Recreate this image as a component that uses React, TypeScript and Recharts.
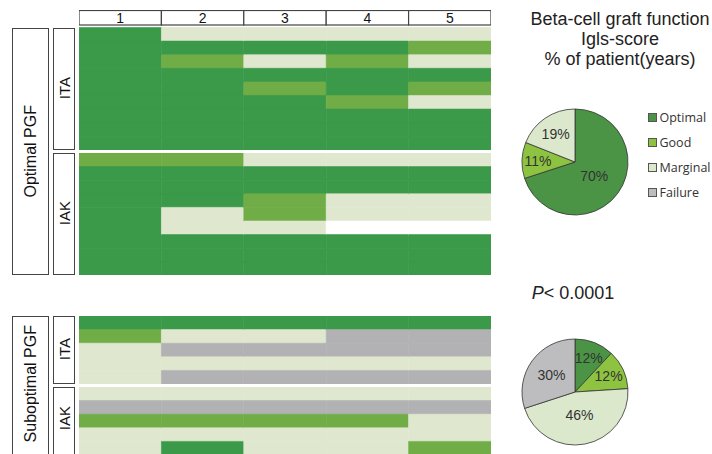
import React from 'react';
import { BarChart, Bar, Cell, XAxis, YAxis, PieChart, Pie, Legend } from 'recharts';

// years after transplantation (column headers)
const years = ['1', '2', '3', '4', '5'];

// one string per patient, one letter per year
// O = optimal, G = good, M = marginal, F = failure, N = no data
const optimalIta = ['OMMMM', 'OOOOG', 'OGMGM', 'OOOOO', 'OOGOG', 'OOOGM', 'OOOOO', 'OOOOO', 'OOOOO'];
const optimalIak = ['GGMMM', 'OOOOO', 'OOOOO', 'OOGMM', 'OMGMM', 'OMMNN', 'OOOOO', 'OOOOO', 'OOOOO'];
const suboptimalIta = ['OOOOO', 'GMMFF', 'MFFFF', 'MMMMM', 'MFFFF'];
const suboptimalIak = ['MMMMM', 'FFFFF', 'GGGGM', 'MMMMM', 'MOMMG'];

const grades = ['Optimal', 'Good', 'Marginal', 'Failure'];
const optimalPgfPct = [70, 11, 19];
const suboptimalPgfPct = [12, 12, 46, 30];

const cellColors: Record<string, string> = {
  O: '#3b9a4a',
  G: '#70ad47',
  M: '#dfe8cf',
  F: '#b2b1b4',
  N: '#ffffff',
};
const pieColors = ['#4b9446', '#8dc340', '#dbe8cc', '#bdbdbf'];

const ROW_H = 13.6;
const HEADER_H = 17.5;
const GRID_LEFT = 79;
const GRID_W = 412;
const FONT = '"Liberation Sans", Arial, sans-serif';

const YearTick = (props: any) => {
  const { x, index } = props;
  const w = GRID_W / years.length;
  return (
    <g>
      <rect x={x - w / 2} y={0.5} width={w} height={14.5} fill="#fff" stroke="#444" strokeWidth={1.2} />
      <text x={x} y={13} textAnchor="middle" fontSize={14} fill="#111" fontFamily={FONT}>
        {years[index]}
      </text>
    </g>
  );
};

function Grid({ rows, top, header }: { rows: string[]; top: number; header?: boolean }) {
  const data = rows.map((r, i) => {
    const d: any = { id: i };
    years.forEach((_, k) => (d['y' + k] = 1));
    return d;
  });
  const h = rows.length * ROW_H + (header ? HEADER_H : 0);
  return (
    <div style={{ position: 'absolute', left: GRID_LEFT, top }}>
      <BarChart
        width={GRID_W}
        height={h}
        data={data}
        layout="vertical"
        barCategoryGap={0}
        margin={{ top: 0, right: 0, bottom: 0, left: 0 }}
      >
        {header ? (
          <XAxis
            type="number"
            domain={[0, years.length]}
            orientation="top"
            height={HEADER_H}
            ticks={years.map((_, k) => k + 0.5)}
            interval={0}
            axisLine={false}
            tickLine={false}
            tick={<YearTick />}
          />
        ) : (
          <XAxis type="number" domain={[0, years.length]} hide />
        )}
        <YAxis type="category" dataKey="id" hide />
        {years.map((_, k) => (
          <Bar key={k} dataKey={'y' + k} stackId="s" isAnimationActive={false}>
            {rows.map((r, i) => (
              <Cell key={i} fill={cellColors[r[k]]} stroke={cellColors[r[k]]} strokeWidth={0.6} />
            ))}
          </Bar>
        ))}
      </BarChart>
    </div>
  );
}

function SideBox({ label, left, top, width, height, textH, fontSize }: any) {
  return (
    <div
      style={{
        position: 'absolute',
        left,
        top,
        width,
        height,
        border: '1.3px solid #444',
        boxSizing: 'border-box',
        background: '#fff',
      }}
    >
      <div
        style={{
          height: textH ?? height - 3,
          display: 'flex',
          alignItems: 'center',
          justifyContent: 'center',
        }}
      >
        <span
          style={{
            writingMode: 'vertical-rl',
            transform: 'rotate(180deg)',
            fontSize,
            color: '#111',
            whiteSpace: 'nowrap',
          }}
        >
          {label}
        </span>
      </div>
    </div>
  );
}

const RAD = Math.PI / 180;
const pctLabel = (props: any) => {
  const { cx, cy, midAngle, outerRadius, value } = props;
  const f = value >= 40 ? 0.45 : value >= 25 ? 0.55 : value >= 15 ? 0.65 : 0.7;
  const r = outerRadius * f;
  const x = cx + r * Math.cos(-midAngle * RAD);
  const y = cy + r * Math.sin(-midAngle * RAD);
  return (
    <text x={x} y={y} textAnchor="middle" dominantBaseline="central" fontSize={14} fill="#333" fontFamily={FONT}>
      {value}%
    </text>
  );
};

const GradeLegend = () => (
  <div style={{ fontFamily: '"Open Sans", sans-serif', fontSize: 12.5, color: '#333' }}>
    {grades.map((g, i) => (
      <div key={g} style={{ display: 'flex', alignItems: 'center', height: 25 }}>
        <span
          style={{
            width: 8.5,
            height: 8.5,
            background: pieColors[i],
            border: '1px solid #555',
            boxSizing: 'border-box',
            marginRight: 3,
          }}
        />
        {g}
      </div>
    ))}
  </div>
);

export default function App() {
  const topPie = optimalPgfPct.map((v, i) => ({ name: grades[i], value: v }));
  const bottomPie = suboptimalPgfPct.map((v, i) => ({ name: grades[i], value: v }));

  return (
    <div
      style={{
        position: 'absolute',
        left: 0,
        top: 0,
        width: 712,
        height: 454,
        overflow: 'hidden',
        background: '#fff',
        fontFamily: FONT,
      }}
    >
      <Grid rows={optimalIta} top={10} header />
      <Grid rows={optimalIak} top={152.5} />
      <Grid rows={suboptimalIta} top={315.7} />
      <Grid rows={suboptimalIak} top={386.7} />

      <SideBox label="Optimal PGF" left={12} top={27.5} width={37} height={247.5} fontSize={16} />
      <SideBox label="ITA" left={53} top={27.5} width={22} height={122.5} fontSize={15} />
      <SideBox label="IAK" left={53} top={152.5} width={22} height={122.5} fontSize={15} />
      <SideBox label="Suboptimal PGF" left={12} top={315.7} width={37} height={170} textH={134} fontSize={16} />
      <SideBox label="ITA" left={53} top={315.7} width={22} height={68.3} fontSize={15} />
      <SideBox label="IAK" left={53} top={386.7} width={22} height={90} textH={61} fontSize={15} />

      <div
        style={{
          position: 'absolute',
          left: 520,
          top: 9,
          width: 200,
          textAlign: 'center',
          fontSize: 18,
          lineHeight: '20px',
          color: '#222',
        }}
      >
        Beta-cell graft function
        <br />
        Igls-score
        <br />% of patient(years)
      </div>

      <div style={{ position: 'absolute', left: 495, top: 90 }}>
        <PieChart width={217} height={135}>
          <Pie
            data={topPie}
            dataKey="value"
            nameKey="name"
            cx={75}
            cy={67}
            outerRadius={53}
            startAngle={90}
            endAngle={-270}
            stroke="#333"
            strokeWidth={0.8}
            label={pctLabel}
            labelLine={false}
            isAnimationActive={false}
          >
            {topPie.map((_, i) => (
              <Cell key={i} fill={pieColors[i]} />
            ))}
          </Pie>
          <Legend
            content={() => <GradeLegend />}
            wrapperStyle={{ position: 'absolute', left: 153, top: 15, width: 70, bottom: 'auto' }}
          />
        </PieChart>
      </div>

      <div
        style={{
          position: 'absolute',
          left: 520,
          top: 283,
          width: 106,
          textAlign: 'center',
          fontSize: 18,
          color: '#222',
        }}
      >
        <i>P</i>&lt; 0.0001
      </div>

      <div style={{ position: 'absolute', left: 495, top: 327 }}>
        <PieChart width={150} height={120}>
          <Pie
            data={bottomPie}
            dataKey="value"
            nameKey="name"
            cx={75}
            cy={60}
            outerRadius={53}
            startAngle={90}
            endAngle={-270}
            stroke="#333"
            strokeWidth={0.8}
            label={pctLabel}
            labelLine={false}
            isAnimationActive={false}
          >
            {bottomPie.map((_, i) => (
              <Cell key={i} fill={pieColors[i]} />
            ))}
          </Pie>
        </PieChart>
      </div>
    </div>
  );
}
